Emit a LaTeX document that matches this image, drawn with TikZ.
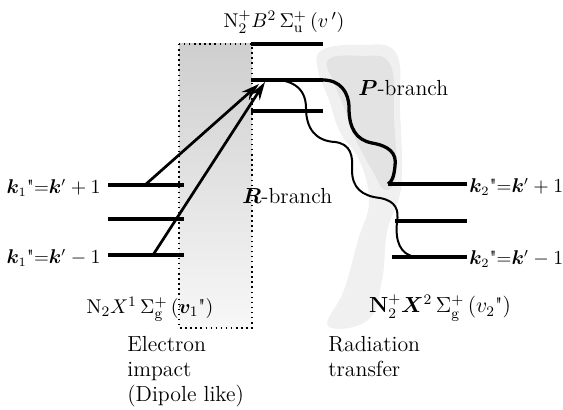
\documentclass[tikz,border=0pt]{standalone}
\usepackage{amsmath,bm}
\usetikzlibrary{arrows.meta}
\begin{document}
\begin{tikzpicture}[x=0.55pt, y=-0.55pt, font=\fontsize{12}{13.75}\selectfont,
  level/.style={line width=1.9pt},
  excite/.style={line width=1.5pt, -{Stealth[length=10pt,width=6pt]}},
  wavethin/.style={line width=1.1pt},
  wavethick/.style={line width=1.8pt},
  klabel/.style={inner sep=0pt, font=\fontsize{10.5}{12}\selectfont}]
\useasboundingbox (0,0) rectangle (563,409);

  % Grey haze behind the levels
  \shade[top color=gray!38, bottom color=gray!6] (179,44) rectangle (252,328);
  \fill[gray!12] plot[smooth cycle, tension=0.7] coordinates {
    (322,50) (360,45) (396,53) (400,110) (402,170) (399,198) (387,232)
    (382,280) (368,320) (328,326) (344,290) (358,240) (369,202) (360,162)
    (340,132) (329,100) (318,70)};
  \fill[gray!22] plot[smooth cycle, tension=0.7] coordinates {
    (328,60) (360,56) (390,64) (394,120) (396,175) (385,190) (372,170)
    (356,140) (345,110) (335,85)};
  \draw[dotted, thick] (179,44) rectangle (252,328);

  % Level end points
  \foreach \y [count=\i] in {44,80,111} {
    \coordinate (bw\i) at (251,\y);
    \coordinate (be\i) at (323,\y);
  }
  \foreach \y [count=\i] in {185,219,255} {
    \coordinate (lw\i) at (108,\y);
    \coordinate (le\i) at (184,\y);
  }
  \foreach \y/\x [count=\i] in {184/388,221/395,257/392} {
    \coordinate (rw\i) at (\x,\y);
    \coordinate (re\i) at (467,\y);
  }

  % Energy levels
  \foreach \i in {1,2,3} {
    \draw[level] (bw\i) -- (be\i);
    \draw[level] (lw\i) -- (le\i);
    \draw[level] (rw\i) -- (re\i);
  }

  % Excitation by electron impact
  \coordinate (tip1) at (259,84);
  \coordinate (tip2) at (265,82);
  \coordinate (s1) at (145,185);
  \coordinate (s2) at (153,255);
  \draw[excite] (s1) -- (tip1);
  \draw[excite] (s2) -- (tip2);

  % Radiative decay
  \draw[wavethick] (be2)
    .. controls (340,80) and (349,92) .. (349,108)
    .. controls (349,128) and (356,140) .. (372,143)
    .. controls (389,146) and (397,153) .. (395,166)
    .. controls (394,176) and (392,182) .. (rw1);
  \coordinate (w0) at (262,80);
  \draw[wavethin] (w0)
    .. controls (292,77) and (306,88) .. (306,108)
    .. controls (306,129) and (316,141) .. (335,142)
    .. controls (351,144) and (353,156) .. (352,170)
    .. controls (352,188) and (362,196) .. (380,198)
    .. controls (396,201) and (399,210) .. (397,222)
    .. controls (395,241) and (400,255) .. (416,257);

  % Labels
  \node[font=\fontsize{11}{13}\selectfont] (upper) at (284,22)
    {$\mathrm{N}_2^{+}B^2\,\Sigma_{\mathrm{u}}^{+}\,(v\,')$};
  \node[anchor=west, inner sep=0pt] (pbr) at (358,88) {$\bm{P}$-branch};
  \node[anchor=west, inner sep=0pt] (rbr) at (242,196) {$\bm{R}$-branch};
  \node[klabel, anchor=east] (kl1) at (101,188) {$\bm{k}_1$\textquotedbl=$\bm{k}'+1$};
  \node[klabel, anchor=east] (kl3) at (101,258) {$\bm{k}_1$\textquotedbl=$\bm{k}'-1$};
  \node[klabel, anchor=west] (kr1) at (469,187) {$\bm{k}_2$\textquotedbl=$\bm{k}'+1$};
  \node[klabel, anchor=west] (kr3) at (469,259) {$\bm{k}_2$\textquotedbl=$\bm{k}'-1$};
  \node[font=\fontsize{11}{13}\selectfont] (ground) at (150,309)
    {$\mathrm{N}_2X^1\,\Sigma_{\mathrm{g}}^{+}\,(\bm{v}_1\text{\textquotedbl})$};
  \node[font=\fontsize{11.5}{13}\selectfont] (ion) at (440,308)
    {$\mathbf{N}_2^{+}\bm{X}^2\,\Sigma_{\mathrm{g}}^{+}\,(v_2\text{\textquotedbl})$};
  \node[anchor=north west, align=left, inner sep=0pt] (impact) at (127,336)
    {Electron\\impact\\(Dipole like)};
  \node[anchor=north west, align=left, inner sep=0pt] (radiat) at (328,336)
    {Radiation\\transfer};
\end{tikzpicture}
\end{document}
